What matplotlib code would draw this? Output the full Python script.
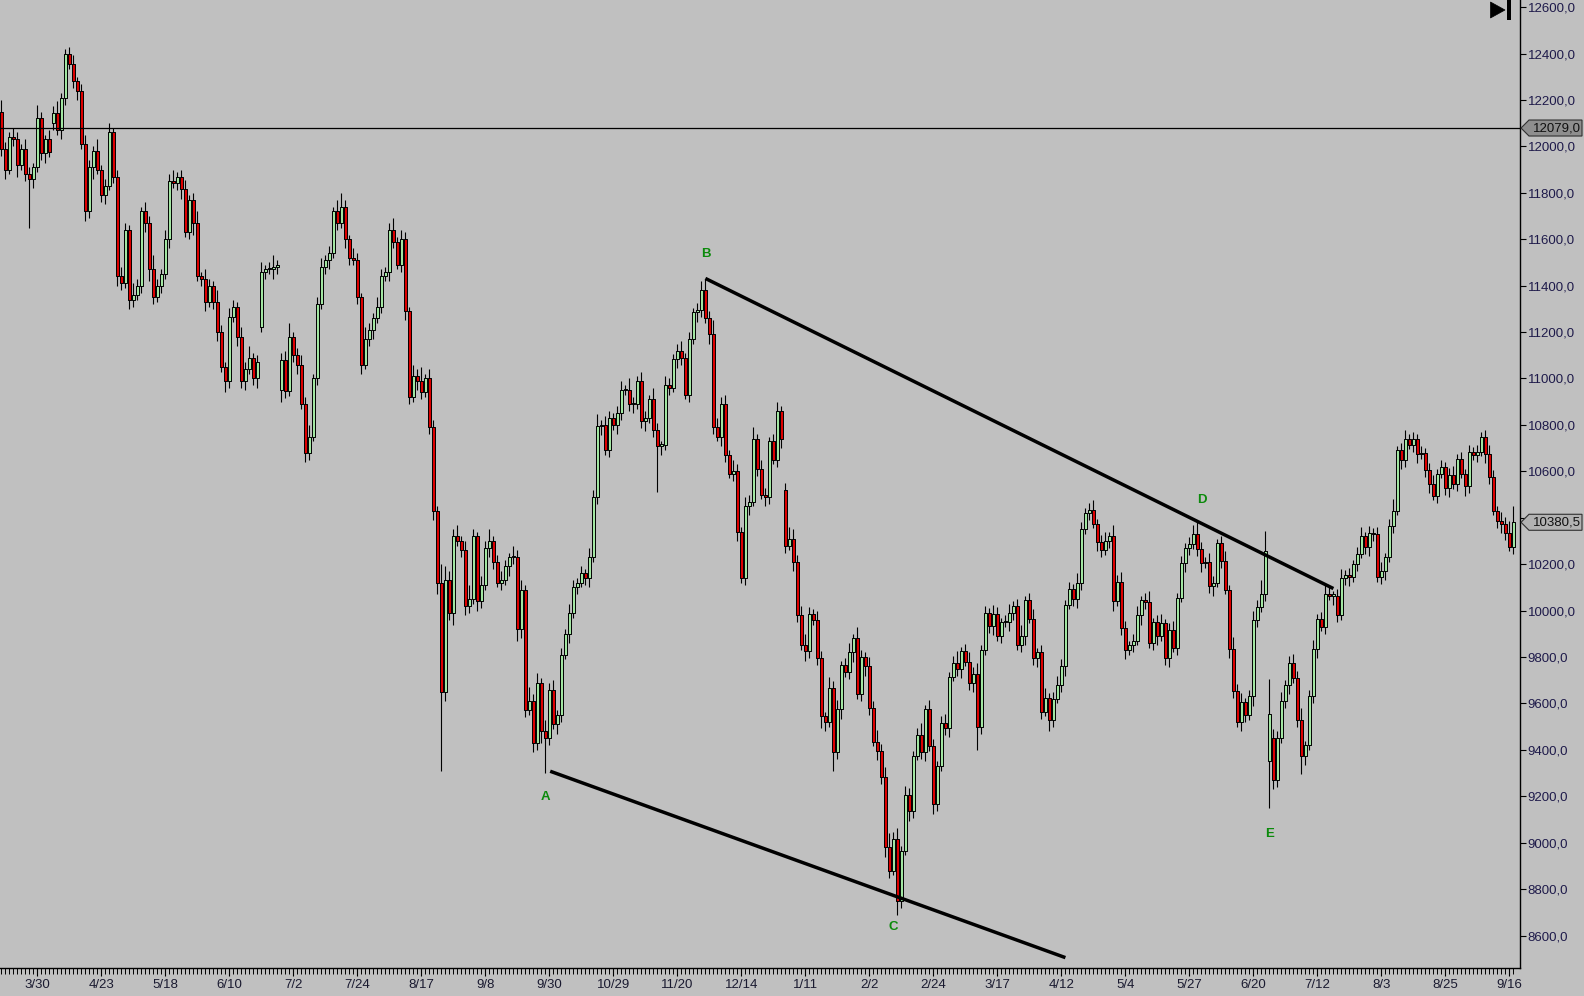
import matplotlib
matplotlib.use("Agg")
import matplotlib.pyplot as plt
from matplotlib.patches import Rectangle, Polygon
from matplotlib.collections import LineCollection, PatchCollection
from matplotlib.transforms import IdentityTransform

plt.rcParams['font.family'] = ['Liberation Sans', 'DejaVu Sans']

# daily closes, one per bar (bar 0 = first visible bar)
closes = [
    11990, 11900, 12040, 12030, 11920, 11990, 11880, 11860, 11910, 12120,
    11970, 12030, 11975, 12145, 12070, 12210, 12400, 12355, 12280, 12240,
    12010, 11720, 11910, 11980, 11900, 11790, 11830, 12060, 11870, 11440,
    11410, 11640, 11340, 11360, 11400, 11720, 11670, 11470, 11350, 11400,
    11450, 11600, 11850, 11840, 11870, 11815, 11630, 11770, 11670, 11440,
    11430, 11330, 11400, 11330, 11200, 11050, 10990, 11265, 11310, 11180,
    10990, 11040, 11090, 11000, 11070, 11460, 11470, 11470, 11480, 11490,
    11080, 10945, 11180, 11100, 11060, 10890, 10680, 10750, 11000, 11320,
    11480, 11510, 11540, 11720, 11670, 11740, 11600, 11520, 11510, 11350,
    11060, 11170, 11210, 11260, 11310, 11440, 11460, 11640, 11590, 11490,
    11600, 11290, 10920, 11010, 10990, 10940, 11000, 10790, 10430, 10120,
    9650, 10130, 9990, 10320, 10300, 10260, 10020, 10050, 10320, 10040,
    10110, 10270, 10300, 10210, 10120, 10130, 10190, 10230, 10230, 9920,
    10090, 9570, 9610, 9430, 9690, 9480, 9450, 9660, 9510, 9550,
    9810, 9900, 9990, 10100, 10120, 10160, 10140, 10230, 10490, 10795,
    10800, 10690, 10830, 10800, 10850, 10950, 10950, 10890, 10890, 10990,
    10815, 10830, 10910, 10780, 10710, 10712, 10970, 10960, 11085, 11120,
    11090, 10930, 11170, 11285, 11295, 11380, 11260, 11190, 10790, 10750,
    10890, 10670, 10590, 10600, 10340, 10140, 10450, 10470, 10740, 10610,
    10500, 10490, 10730, 10650, 10860, 10740, 10280, 10310, 10210, 9980,
    9850, 9825, 9985, 9960, 9795, 9545, 9520, 9665, 9390, 9575,
    9765, 9735, 9820, 9880, 9640, 9800, 9760, 9580, 9435, 9395,
    9285, 8980, 8880, 9015, 8750, 8965, 9205, 9135, 9375, 9465,
    9390, 9575, 9415, 9165, 9330, 9515, 9495, 9715, 9775, 9750,
    9825, 9780, 9690, 9725, 9500, 9830, 9990, 9935, 9985, 9890,
    9950, 9950, 9990, 10020, 9850, 9890, 10045, 9965, 9795, 9820,
    9565, 9625, 9530, 9620, 9680, 9760, 10025, 10095, 10050, 10120,
    10350, 10420, 10435, 10375, 10295, 10260, 10300, 10320, 10040, 10125,
    9925, 9830, 9850, 9870, 9980, 10045, 10035, 9860, 9950, 9890,
    9945, 9795, 9915, 9840, 10055, 10205, 10270, 10285, 10330, 10265,
    10205, 10210, 10105, 10120, 10290, 10215, 10090, 9835, 9655, 9520,
    9605, 9550, 9630, 9960, 10015, 10070, 10255, 9555, 9270, 9450,
    9610, 9680, 9775, 9710, 9530, 9375, 9420, 9630, 9835, 9965,
    9930, 10070, 10065, 10065, 9980, 10140, 10155, 10145, 10200, 10245,
    10320, 10275, 10335, 10330, 10145, 10170, 10230, 10365, 10430, 10690,
    10650, 10740, 10715, 10740, 10675, 10680, 10605, 10545, 10495, 10590,
    10620, 10530, 10585, 10545, 10655, 10590, 10535, 10685, 10670, 10685,
    10750, 10675, 10575, 10430, 10385, 10375, 10335, 10275, 10380,
]

# upper / lower shadows beyond the body, in tens of points
wick_hi = [
    5, 3, 2, 4, 3, 2, 4, 3, 2, 6, 3, 2, 4, 3, 5, 2, 2, 3, 4, 2,
    3, 4, 3, 2, 5, 2, 3, 4, 2, 3, 4, 3, 2, 5, 3, 2, 4, 3, 6, 3,
    2, 4, 3, 5, 2, 3, 4, 2, 3, 5, 2, 4, 3, 2, 5, 3, 2, 4, 3, 2,
    4, 3, 5, 2, 3, 4, 2, 3, 5, 2, 3, 4, 6, 2, 3, 4, 3, 5, 2, 3,
    4, 2, 3, 2, 5, 6, 3, 2, 4, 3, 2, 5, 3, 2, 4, 3, 2, 3, 5, 2,
    4, 3, 2, 5, 3, 6, 2, 4, 3, 2, 8, 6, 4, 3, 5, 2, 4, 6, 3, 2,
    4, 3, 5, 2, 3, 4, 3, 2, 5, 3, 4, 2, 6, 3, 4, 2, 5, 3, 4, 2,
    3, 2, 4, 3, 2, 3, 2, 4, 3, 5, 2, 4, 3, 2, 3, 4, 2, 5, 3, 2,
    4, 3, 2, 5, 3, 2, 4, 3, 2, 3, 4, 2, 3, 2, 3, 4, 5, 3, 6, 4,
    3, 4, 2, 5, 3, 2, 4, 3, 5, 2, 4, 3, 2, 3, 4, 2, 3, 5, 4, 3,
    4, 5, 3, 2, 4, 3, 2, 5, 3, 4, 2, 3, 4, 2, 5, 3, 2, 4, 3, 5,
    3, 4, 6, 3, 5, 2, 4, 3, 2, 3, 5, 2, 4, 3, 2, 3, 4, 2, 3, 5,
    2, 3, 4, 3, 5, 2, 3, 2, 4, 3, 2, 3, 4, 2, 3, 5, 2, 3, 4, 2,
    3, 4, 2, 3, 4, 3, 2, 3, 2, 4, 3, 2, 3, 4, 2, 3, 4, 2, 5, 3,
    4, 3, 2, 3, 4, 2, 3, 5, 2, 3, 4, 2, 3, 4, 2, 3, 2, 3, 4, 5,
    3, 2, 4, 3, 2, 3, 4, 2, 5, 3, 4, 2, 3, 4, 3, 6, 9, 15, 4, 3,
    4, 2, 3, 4, 3, 5, 2, 3, 4, 2, 3, 4, 3, 2, 3, 4, 2, 3, 2, 3,
    4, 2, 3, 2, 3, 4, 2, 3, 5, 2, 3, 4, 2, 3, 2, 3, 2, 3, 4, 2,
    3, 2, 3, 4, 2, 3, 2, 3, 2, 3, 2, 3, 4, 3, 2, 4, 3, 5, 7,
]
wick_lo = [
    3, 4, 2, 3, 5, 2, 3, 21, 4, 2, 3, 4, 2, 3, 2, 4, 3, 2, 3, 4,
    2, 4, 3, 5, 2, 3, 4, 2, 3, 4, 3, 2, 4, 3, 2, 3, 4, 5, 3, 2,
    3, 2, 4, 2, 3, 4, 2, 3, 5, 2, 3, 4, 2, 3, 4, 2, 5, 3, 2, 4,
    3, 4, 2, 3, 4, 2, 3, 2, 4, 3, 5, 3, 2, 3, 4, 2, 4, 3, 2, 3,
    2, 3, 4, 2, 3, 2, 4, 3, 2, 3, 4, 2, 3, 4, 2, 3, 2, 4, 3, 2,
    3, 4, 3, 2, 4, 3, 2, 3, 4, 5, 34, 4, 3, 5, 2, 3, 4, 3, 2, 4,
    3, 2, 4, 3, 2, 3, 2, 4, 3, 5, 4, 3, 2, 4, 3, 5, 15, 3, 2, 4,
    3, 2, 4, 2, 3, 2, 3, 4, 2, 3, 4, 2, 3, 2, 4, 3, 2, 3, 4, 2,
    3, 4, 2, 3, 20, 4, 2, 3, 2, 4, 3, 2, 3, 2, 4, 3, 2, 4, 3, 2,
    4, 3, 2, 3, 4, 2, 3, 4, 2, 3, 2, 4, 3, 2, 3, 4, 3, 2, 4, 3,
    2, 4, 3, 2, 3, 5, 4, 2, 8, 3, 4, 2, 3, 4, 2, 3, 4, 3, 2, 4,
    3, 4, 3, 2, 6, 3, 2, 4, 3, 2, 3, 4, 2, 4, 3, 2, 3, 4, 2, 3,
    4, 2, 3, 4, 10, 3, 2, 3, 4, 2, 3, 2, 4, 3, 2, 3, 4, 2, 3, 4,
    3, 2, 5, 3, 2, 3, 4, 2, 3, 4, 3, 2, 3, 2, 4, 3, 2, 3, 4, 2,
    3, 4, 2, 3, 2, 4, 3, 2, 3, 4, 2, 3, 4, 2, 3, 2, 4, 3, 2, 3,
    4, 2, 3, 4, 2, 3, 2, 4, 3, 2, 4, 3, 2, 4, 3, 2, 3, 20, 4, 3,
    2, 3, 4, 2, 3, 8, 4, 2, 3, 4, 2, 3, 2, 4, 3, 2, 3, 4, 2, 3,
    2, 3, 4, 3, 2, 3, 4, 2, 3, 2, 4, 3, 2, 3, 4, 2, 3, 4, 2, 3,
    2, 3, 4, 2, 3, 2, 4, 3, 2, 3, 2, 4, 3, 2, 3, 4, 3, 2, 3,
]

first_open = 12150
# bars that opened with a gap instead of at the previous close
gap_opens = {13: 12100, 65: 11220, 70: 10950, 196: 10520, 317: 9350, 318: 9450}

date_labels = ["3/30", "4/23", "5/18", "6/10", "7/2", "7/24", "8/17", "9/8",
               "9/30", "10/29", "11/20", "12/14", "1/11", "2/2", "2/24", "3/17",
               "4/12", "5/4", "5/27", "6/20", "7/12", "8/3", "8/25", "9/16"]
label_bars = [9, 25, 41, 57, 73, 89, 105, 121, 137, 153, 169, 185,
              201, 217, 233, 249, 265, 281, 297, 313, 329, 345, 361, 377]

price_ticks = [8600, 8800, 9000, 9200, 9400, 9600, 9800, 10000, 10200, 10400, 10600,
               10800, 11000, 11200, 11400, 11600, 11800, 12000, 12200, 12400, 12600]

hline_price = 12079.0
last_price = 10380.5

# trend lines (bar, price)
upper_bars, upper_prices = [176, 333], [11431, 10095]
lower_bars, lower_prices = [137.2, 266], [9308, 8505]

wave_names = ["A", "B", "C", "D", "E"]
wave_bars = [136, 176.2, 222.9, 300.2, 317.1]
wave_prices = [9195, 11537, 8637, 10475, 9038]

BG = '#c0c0c0'
UP = '#a2e6a2'
DOWN = '#dc0000'

W, H = 1584, 996
fig = plt.figure(figsize=(W / 100, H / 100), dpi=100, facecolor=BG)
ax = fig.add_axes([0, 28 / H, 1520 / W, 968 / H], facecolor=BG)

# candles
opens = []
prev = first_open
for i, c in enumerate(closes):
    opens.append(gap_opens.get(i, prev))
    prev = c

wicks = []
bodies = []
colors = []
for i, (o, c, wh, wl) in enumerate(zip(opens, closes, wick_hi, wick_lo)):
    top = max(o, c)
    bot = min(o, c)
    wicks.append([(i, bot - wl * 10), (i, top + wh * 10)])
    hgt = max(top - bot, 6)
    bodies.append(Rectangle((i - 0.36, bot), 0.72, hgt))
    colors.append(UP if c >= o else DOWN)

ax.add_collection(LineCollection(wicks, colors='black', linewidths=0.8, zorder=2))
ax.add_collection(PatchCollection(bodies, facecolors=colors, edgecolors='black',
                                  linewidths=0.7, zorder=3))

ax.axhline(hline_price, color='black', lw=0.9, zorder=4)

ax.plot(upper_bars, upper_prices, color='black', lw=2.5, solid_capstyle='butt', zorder=5)
ax.plot(lower_bars, lower_prices, color='black', lw=2.5, solid_capstyle='butt', zorder=5)

for name, b, p in zip(wave_names, wave_bars, wave_prices):
    ax.text(b, p, name, color='#0b8a0b', fontsize=9.5, fontweight='bold',
            ha='center', va='center', zorder=6)

ax.set_xlim(-0.35, 379.65)
ax.set_ylim(8460.3, 12630.5)

for s in ['left', 'top']:
    ax.spines[s].set_visible(False)
for s in ['right', 'bottom']:
    ax.spines[s].set_color('black')
    ax.spines[s].set_linewidth(1.0)

# the last-price tag covers the 10400 label, as on the original screen
ax.yaxis.tick_right()
ax.set_yticks(price_ticks)
ax.set_yticklabels(["" if abs(p - last_price) < 60 else f"{p:.1f}".replace('.', ',')
                    for p in price_ticks])
ax.tick_params(axis='y', direction='out', length=4, width=0.8, pad=1.5,
               labelsize=9.5, labelcolor='#1e1a4a', color='black')

ax.set_xticks(label_bars)
ax.set_xticklabels(date_labels)
ax.set_xticks(range(len(closes)), minor=True)
ax.tick_params(axis='x', which='major', direction='out', length=6, width=0.8,
               pad=2, labelsize=9.5, labelcolor='#1a1a30')
ax.tick_params(axis='x', which='minor', direction='out', length=4, width=0.7)

fig.canvas.draw()


def price_tag(price, fill):
    y = ax.transData.transform((0, price))[1]
    x0 = 1521
    pts = [(x0, y), (x0 + 8, y + 8), (x0 + 61, y + 8), (x0 + 61, y - 8), (x0 + 8, y - 8)]
    fig.add_artist(Polygon(pts, closed=True, facecolor=fill, edgecolor='#303030',
                           lw=0.8, transform=IdentityTransform(), zorder=10))
    fig.text(x0 + 36, y, f"{price:.1f}".replace('.', ','), transform=IdentityTransform(),
             ha='center', va='center', fontsize=9.5, color='#101010', zorder=11)


price_tag(hline_price, '#8e8e8e')
price_tag(last_price, '#b2b2b2')

# "go to end" button in the top right corner
fig.add_artist(Polygon([(1490.5, H - 2), (1490.5, H - 18), (1505, H - 10)], closed=True,
                       facecolor='black', edgecolor='black', lw=0.5,
                       transform=IdentityTransform()))
fig.add_artist(Rectangle((1506.5, H - 20), 4, 20, facecolor='black', edgecolor='none',
                         transform=IdentityTransform()))

fig.savefig("out.png", dpi=100, facecolor=BG)
